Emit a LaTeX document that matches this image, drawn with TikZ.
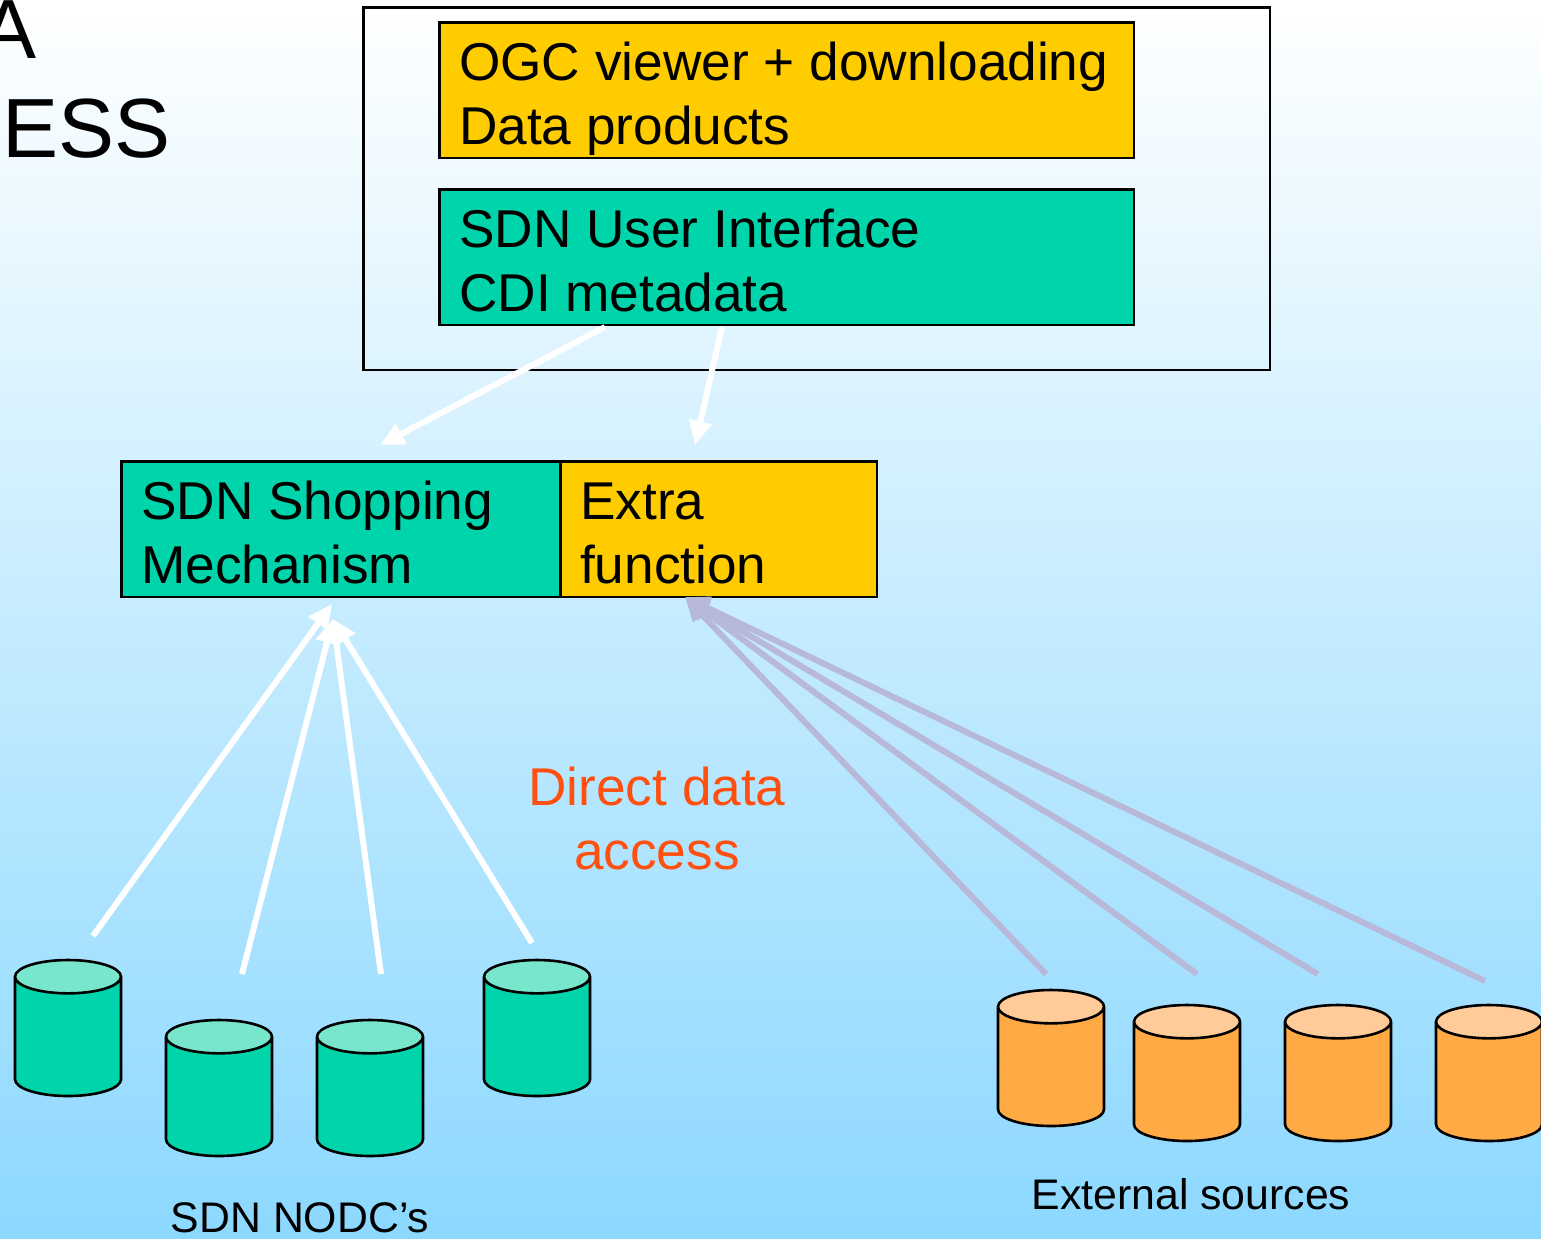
\documentclass[tikz,border=0pt]{standalone}
\usepackage{fontspec}
\setmainfont{Liberation Sans}
\usetikzlibrary{arrows.meta,shapes.geometric}
\definecolor{sdngreen}{HTML}{00D4AA}
\definecolor{sdngreentop}{HTML}{77E6CC}
\definecolor{extrayellow}{HTML}{FFCC00}
\definecolor{extorange}{HTML}{FFAA44}
\definecolor{extorangetop}{HTML}{FFCC99}
\definecolor{directred}{HTML}{FF5010}
\definecolor{extarrow}{HTML}{B8B8D8}
\definecolor{skybottom}{HTML}{8CD8FF}
\tikzset{
  boxnode/.style={draw,line width=1.3pt,minimum height=67.8pt,inner xsep=10pt,inner ysep=0pt,
    align=flush left,text height=23pt,text depth=32.5pt,font=\fontsize{26.6}{32}\selectfont},
  greenbox/.style={boxnode,fill=sdngreen},
  yellowbox/.style={boxnode,fill=extrayellow},
  drum/.style={cylinder,shape border rotate=90,shape aspect=2.5,draw,line width=1.3pt,anchor=shape center,
    minimum width=53pt,minimum height=68pt,cylinder uses custom fill},
  greendrum/.style={drum,cylinder body fill=sdngreen,cylinder end fill=sdngreentop},
  orangedrum/.style={drum,cylinder body fill=extorange,cylinder end fill=extorangetop},
  whiteflow/.style={draw=white,line width=3pt,-{Triangle[width=11pt,length=12pt]}},
  greyflow/.style={draw=extarrow,line width=3pt,-{Triangle[width=11pt,length=12pt]}},
  caption/.style={font=\fontsize{21.4}{26}\selectfont,anchor=base},
}
\begin{document}
\begin{tikzpicture}[x=0.5pt,y=-0.5pt]
  \useasboundingbox (0,0) rectangle (1541,1238);
  \shade[top color=white,bottom color=skybottom] (0,0) rectangle (1541,1238);
  % title, cut by the page
  \node[anchor=base east,inner sep=0pt,font=\fontsize{42}{48}\selectfont] (titlea) at (37,58) {A};
  \node[anchor=base west,inner sep=0pt,font=\fontsize{42}{48}\selectfont] (titleb) at (2,157) {ESS};
  % portal
  \node[draw,line width=1.3pt,minimum width=453.3pt,minimum height=181.3pt] (portal) at (816.5,188.5) {};
  \node[yellowbox,text width=327.3pt] (ogc) at (786.5,90) {OGC viewer + downloading\\Data products};
  \node[greenbox,text width=327.3pt] (ui) at (786.5,257) {SDN User Interface\\CDI metadata};
  % middle row
  \node[greenbox,text width=199.3pt] (shop) at (340.5,529) {SDN Shopping\\Mechanism};
  \node[yellowbox,text width=138.3pt] (extra) at (718.5,529) {Extra\\function};
  % data centres
  \node[greendrum] (c1) at (68,1028) {};
  \node[greendrum] (c2) at (219,1088) {};
  \node[greendrum] (c3) at (370,1088) {};
  \node[greendrum] (c4) at (537,1028) {};
  \node[orangedrum] (d1) at (1051,1058) {};
  \node[orangedrum] (d2) at (1187,1073) {};
  \node[orangedrum] (d3) at (1338,1073) {};
  \node[orangedrum] (d4) at (1489,1073) {};
  % labels
  \node[align=center,inner sep=0pt,text=directred,anchor=base,font=\fontsize{26.6}{32}\selectfont] (direct) at (657,869) {Direct data\\access};
  \node[caption] (nodcs) at (300,1232) {SDN NODC’s};
  \node[caption] (external) at (1191,1209) {External sources};
  % flows
  \begin{scope}[whiteflow]
    \draw ([shift={(-181.5,70)}]ui.center) to ([shift={(39.5,-84)}]shop.center);
    \draw ([shift={(-64.5,70)}]ui.center) to ([shift={(-23.5,-84)}]extra.center);
    \draw ([shift={(25,-92)}]c1.shape center) to ([shift={(-8.5,75)}]shop.center);
    \draw ([shift={(23,-114)}]c2.shape center) to ([shift={(-7.5,90)}]shop.center);
    \draw ([shift={(11,-114)}]c3.shape center) to ([shift={(-7.5,90)}]shop.center);
    \draw ([shift={(-5,-85)}]c4.shape center) to ([shift={(-7.5,90)}]shop.center);
  \end{scope}
  \begin{scope}[greyflow]
    \draw ([shift={(-5,-84)}]d1.shape center) to ([shift={(-33.5,68)}]extra.center);
    \draw ([shift={(10,-99)}]d2.shape center) to ([shift={(-33.5,68)}]extra.center);
    \draw ([shift={(-20,-99)}]d3.shape center) to ([shift={(-33.5,68)}]extra.center);
    \draw ([shift={(-4,-92)}]d4.shape center) to ([shift={(-33.5,68)}]extra.center);
  \end{scope}
\end{tikzpicture}
\end{document}
